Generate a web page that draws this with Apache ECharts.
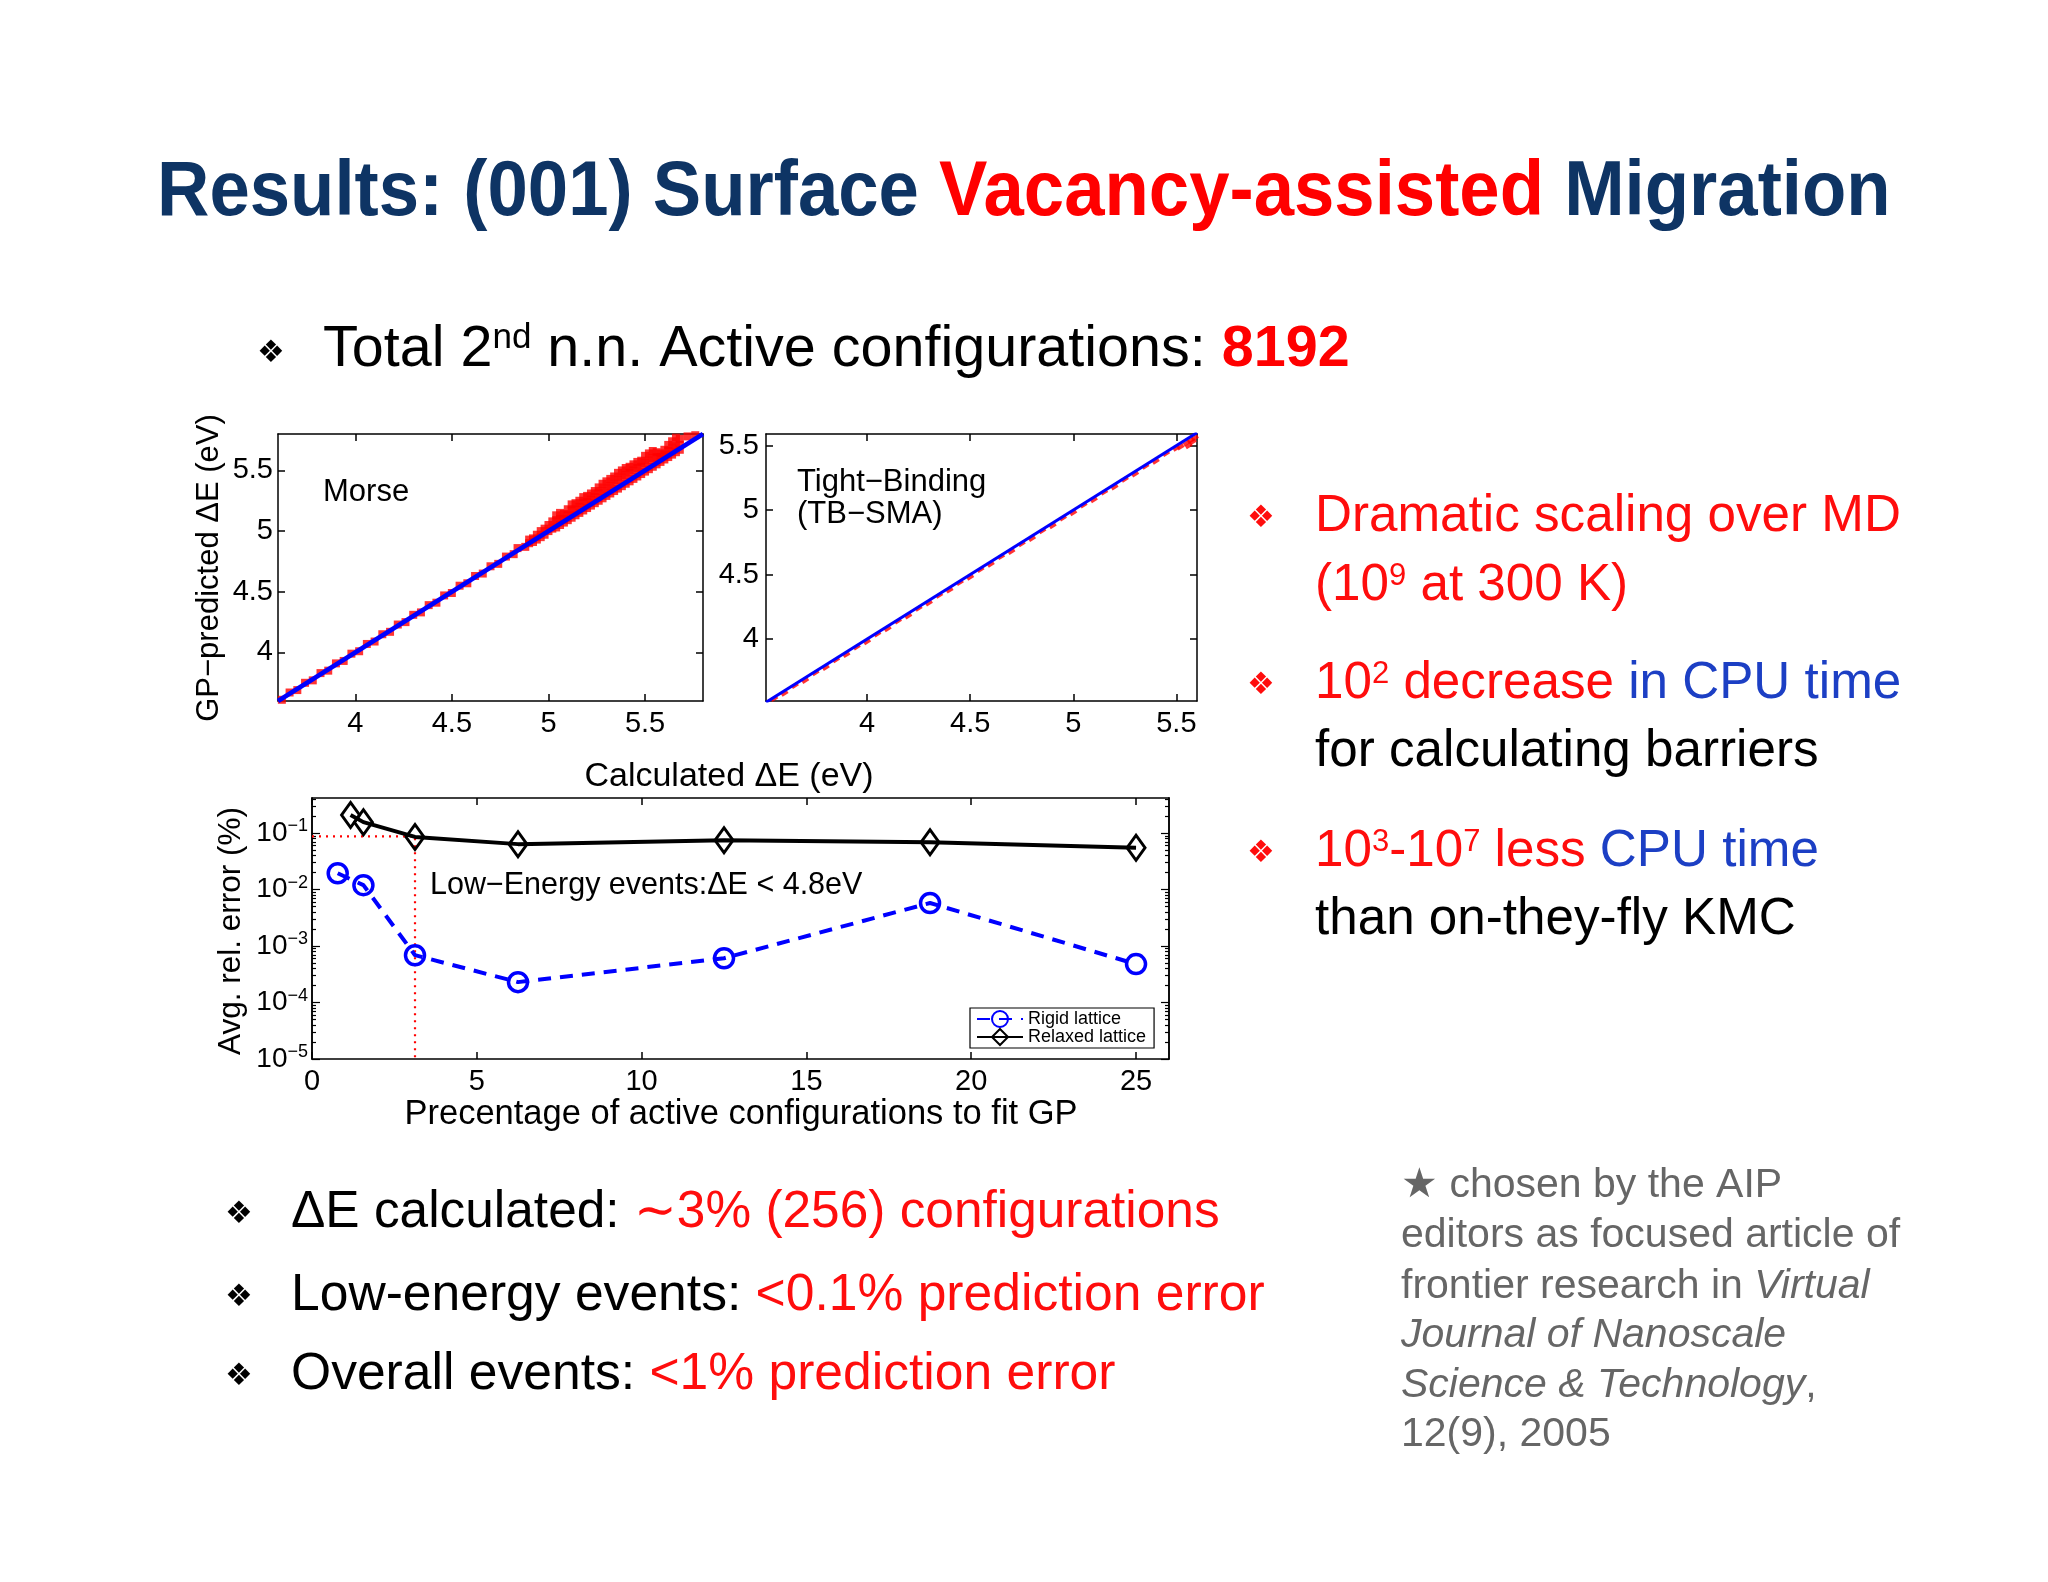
<!DOCTYPE html>
<html>
<head>
<meta charset="utf-8">
<script src="https://cdn.jsdelivr.net/npm/echarts@6/dist/echarts.min.js"></script>
<style>
html,body{margin:0;padding:0;background:#fff;}
#main{width:2048px;height:1582px;}
</style>
</head>
<body>
<div id="main"></div>
<script>
// ---------------- DATA ----------------
// Morse panel: calculated vs GP-predicted barrier (eV)
const morseCalc = [3.62,3.66,3.70,3.74,3.78,3.82,3.86,3.90,3.94,3.98,4.02,4.06,4.10,4.14,4.18,4.22,4.26,4.30,4.34,4.38,4.42,4.46,4.50,4.54,4.58,4.62,4.66,4.70,4.74,4.78,4.82,4.84,4.88,
  4.90,4.90,4.92,4.92,4.94,4.94,4.96,4.96,4.98,4.98,5.00,5.00,5.02,5.02,
  5.04,5.04,5.04,5.06,5.06,5.06,5.08,5.08,5.08,5.10,5.10,5.10,5.12,5.12,5.12,5.14,5.14,5.14,5.16,5.16,5.16,5.18,5.18,5.18,5.20,5.20,5.20,5.22,5.22,5.22,5.24,5.24,5.24,5.26,5.26,5.26,5.28,5.28,5.28,5.30,5.30,5.30,5.32,5.32,5.32,5.34,5.34,5.34,5.36,5.36,5.36,5.38,5.38,5.38,5.40,5.40,5.40,5.42,5.42,5.42,5.44,5.44,5.44,5.46,5.46,5.46,5.48,5.48,5.48,5.50,5.50,5.50,5.52,5.52,5.52,5.54,5.54,5.54,5.56,5.56,5.56,5.58,5.58,5.58,5.60,5.60,5.60,5.62,5.62,5.62,5.64,5.64,5.64,5.66,5.66,5.66,5.68,5.68,5.68,5.72,5.76];
const morsePred = [3.61,3.67,3.69,3.75,3.77,3.83,3.85,3.91,3.93,3.99,4.01,4.07,4.09,4.15,4.17,4.23,4.25,4.31,4.33,4.39,4.41,4.47,4.49,4.55,4.57,4.63,4.65,4.71,4.73,4.79,4.81,4.86,4.87,
  4.93,4.90,4.94,4.91,4.97,4.93,5.00,4.95,5.02,4.97,5.05,5.00,5.08,5.02,
  5.13,5.09,5.03,5.15,5.10,5.05,5.14,5.10,5.07,5.18,5.13,5.09,5.22,5.17,5.11,5.23,5.18,5.13,5.25,5.20,5.15,5.28,5.23,5.17,5.29,5.24,5.19,5.31,5.26,5.21,5.33,5.28,5.23,5.36,5.31,5.25,5.39,5.33,5.27,5.41,5.35,5.29,5.43,5.37,5.31,5.45,5.39,5.33,5.48,5.42,5.35,5.50,5.44,5.37,5.52,5.46,5.39,5.53,5.48,5.41,5.55,5.50,5.43,5.57,5.52,5.45,5.58,5.53,5.47,5.62,5.56,5.49,5.64,5.58,5.51,5.66,5.60,5.53,5.65,5.61,5.55,5.64,5.61,5.57,5.67,5.63,5.59,5.71,5.66,5.61,5.74,5.68,5.63,5.77,5.70,5.65,5.76,5.71,5.67,5.78,5.79];
const morseFitEnds = [3.6, 5.8];

// Tight-Binding panel
const tbCalc = [3.55,3.60,3.65,3.70,3.75,3.80,3.85,3.90,3.95,4.00,4.05,4.10,4.15,4.20,4.25,4.30,4.35,4.40,4.45,4.50,4.55,4.60,4.65,4.70,4.75,4.80,4.85,4.90,4.95,5.00,5.05,5.10,5.15,5.20,5.25,5.30,5.35,5.40,5.45,5.50,5.52,5.55,5.56,5.57,5.58,5.59];
const tbPred = [3.54,3.58,3.64,3.68,3.74,3.78,3.84,3.88,3.94,3.98,4.04,4.08,4.14,4.18,4.24,4.28,4.34,4.38,4.44,4.48,4.54,4.58,4.64,4.68,4.74,4.78,4.84,4.88,4.94,4.98,5.04,5.08,5.14,5.18,5.24,5.28,5.34,5.38,5.44,5.48,5.49,5.52,5.50,5.54,5.53,5.56];
const tbFitEnds = [3.51, 5.6];

// Error vs percentage of configurations
const pctRigid   = [0.78, 1.56, 3.125, 6.25, 12.5, 18.75, 25];
const errRigid   = [0.0195, 0.012, 0.00069, 0.00023, 0.00061, 0.0058, 0.00048];
const pctRelaxed = [1.17, 1.56, 3.125, 6.25, 12.5, 18.75, 25];
const errRelaxed = [0.21, 0.157, 0.086, 0.064, 0.075, 0.069, 0.055];
const guideX = [0, 3.125, 3.125];
const guideY = [0.088, 0.088, 0.00001];

// Tick labels
const energyTicks = [4, 4.5, 5, 5.5];
const pctTicks = [0, 5, 10, 15, 20, 25];
const errTicks = [1e-5, 1e-4, 1e-3, 1e-2, 1e-1];

// ---------------- CHART ----------------
const F = '"Liberation Sans", Arial, Helvetica, sans-serif';
const pairs = (a, b) => a.map((v, i) => [v, b[i]]);

const errMinor = [];
[1e-5, 1e-4, 1e-3, 1e-2, 1e-1].forEach(d => { for (let k = 2; k <= 9; k++) { const v = k * d; if (v < 0.42) errMinor.push(v); } });

function axis(gi, pos, min, max, ticks, showLabel, margin, extra) {
  return Object.assign({
    type: 'value', gridIndex: gi, position: pos, min: min, max: max, offset: 0,
    axisLine: { show: true, onZero: false, lineStyle: { color: '#000', width: 1.5 } },
    axisTick: { show: true, inside: true, length: 7, customValues: ticks, lineStyle: { color: '#000', width: 1.5 } },
    axisLabel: { show: showLabel, customValues: ticks, color: '#000', fontSize: 29, fontFamily: F, margin: margin },
    splitLine: { show: false }
  }, extra || {});
}
const supFmt = v => { const e = Math.round(Math.log10(v)); return '{b|10}{s|' + (e < 0 ? '\u2212' : '') + Math.abs(e) + '}'; };
function logAxis(pos, ticks, showLabel, len) {
  return {
    type: 'log', logBase: 10, gridIndex: 2, position: pos, min: 1e-5, max: 0.42, offset: 0,
    axisLine: { show: true, onZero: false, lineStyle: { color: '#000', width: 1.5 } },
    axisTick: { show: true, inside: true, length: len, customValues: ticks, lineStyle: { color: '#000', width: 1.2 } },
    axisLabel: { show: showLabel, customValues: ticks, margin: 4, formatter: supFmt,
      rich: { b: { fontSize: 28, fontFamily: F, color: '#000', lineHeight: 32 },
              s: { fontSize: 18, fontFamily: F, color: '#000', verticalAlign: 'top', lineHeight: 18 } } },
    splitLine: { show: false }
  };
}

function T(x, y, text, st, el) {
  return Object.assign({ type: 'text', x: x, y: y, z: 100,
    style: Object.assign({ text: text, fill: '#000', fontFamily: F, fontSize: 28,
      align: 'left', verticalAlign: 'middle', textAlign: 'left', textVerticalAlign: 'middle' }, st || {}) }, el || {});
}
const R = '#ff0d0d', B = '#1c3fc4', NAVY = '#0e3464', G = '#666666';
const bulletStyle = c => ({ fontFamily: '"DejaVu Sans", sans-serif', fontSize: 31, fill: c });
function rs(size, color, extra) { return Object.assign({ fontSize: size, fontFamily: F, fill: color }, extra || {}); }
const sup = (size, color) => rs(size, color, { verticalAlign: 'top' });

const graphics = [
  // Title
  T(157, 193, '{n|Results: (001) Surface }{r|Vacancy-assisted}{n| Migration}',
    { rich: { n: rs(78, NAVY, { fontWeight: 'bold' }), r: rs(78, '#ff0000', { fontWeight: 'bold' }) } },
    { scaleX: 0.93 }),
  // Sub-heading
  T(257, 354, '\u2756', bulletStyle('#000')),
  T(323, 350, '{k|Total 2}{s|nd}{k| n.n. Active configurations: }{rb|8192}',
    { rich: { k: rs(57.5, '#000'), s: sup(35, '#000'), rb: rs(57.5, '#ff0000', { fontWeight: 'bold' }) } }),
  // Right bullets
  T(1247, 519, '\u2756', bulletStyle(R)),
  T(1315, 517, '{r|Dramatic scaling over MD}', { rich: { r: rs(51.2, R) } }),
  T(1315, 586, '{r|(10}{s|9}{r| at 300 K)}', { rich: { r: rs(51.2, R), s: sup(31, R) } }),
  T(1247, 686, '\u2756', bulletStyle(R)),
  T(1315, 684, '{r|10}{s|2}{r| decrease }{b|in CPU time}', { rich: { r: rs(51.2, R), s: sup(31, R), b: rs(51.2, B) } }),
  T(1315, 752, 'for calculating barriers', { fontSize: 51.2 }),
  T(1247, 854, '\u2756', bulletStyle(R)),
  T(1315, 852, '{r|10}{s|3}{r|-10}{s|7}{r| less }{b|CPU time}', { rich: { r: rs(51.2, R), s: sup(31, R), b: rs(51.2, B) } }),
  T(1315, 920, 'than on-they-fly KMC', { fontSize: 51.2 }),
  // Bottom bullets
  T(225, 1215, '\u2756', bulletStyle('#000')),
  T(291, 1213, '{k|\u0394E calculated: }{r|\u223C3% (256) configurations}', { rich: { k: rs(51.4, '#000'), r: rs(51.4, R) } }),
  T(225, 1298, '\u2756', bulletStyle('#000')),
  T(291, 1296, '{k|Low-energy events: }{r|<0.1% prediction error}', { rich: { k: rs(51.6, '#000'), r: rs(51.6, R) } }),
  T(225, 1377, '\u2756', bulletStyle('#000')),
  T(291, 1375, '{k|Overall events: }{r|<1% prediction error}', { rich: { k: rs(51.6, '#000'), r: rs(51.6, R) } }),
  // Citation
  T(1401, 1186, '\u2605 chosen by the AIP', { fontSize: 41, fill: G }),
  T(1401, 1236, 'editors as focused article of', { fontSize: 41, fill: G }),
  T(1401, 1287, '{n|frontier research in }{i|Virtual}', { rich: { n: rs(41, G), i: rs(41, G, { fontStyle: 'italic' }) } }),
  T(1401, 1336, 'Journal of Nanoscale', { fontSize: 41, fill: G, fontStyle: 'italic' }),
  T(1401, 1386, '{i|Science & Technology}{n|,}', { rich: { n: rs(41, G), i: rs(41, G, { fontStyle: 'italic' }) } }),
  T(1401, 1435, '12(9), 2005', { fontSize: 41, fill: G }),
  // Plot annotations
  T(323, 492, 'Morse', { fontSize: 31 }),
  T(797, 482, 'Tight\u2212Binding', { fontSize: 31 }),
  T(797, 514, '(TB\u2212SMA)', { fontSize: 31 }),
  T(430, 886, 'Low\u2212Energy events:\u0394E < 4.8eV', { fontSize: 30.5 }),
  // Axis titles
  T(729, 777, 'Calculated \u0394E (eV)', { fontSize: 34, align: 'center', textAlign: 'center' }),
  T(209, 568, 'GP\u2212predicted \u0394E (eV)', { fontSize: 31, align: 'center', textAlign: 'center' }, { rotation: Math.PI / 2 }),
  T(231, 931, 'Avg. rel. error (%)', { fontSize: 31.5, align: 'center', textAlign: 'center' }, { rotation: Math.PI / 2 }),
  T(741, 1114, 'Precentage of active configurations to fit GP', { fontSize: 34.5, align: 'center', textAlign: 'center' })
];

const option = {
  backgroundColor: '#ffffff',
  animation: false,
  grid: [
    { left: 278, top: 434, width: 425, height: 267, containLabel: false, outerBoundsMode: 'none' },
    { left: 766, top: 434, width: 431, height: 267, containLabel: false, outerBoundsMode: 'none' },
    { left: 312, top: 798, width: 857, height: 261, containLabel: false, outerBoundsMode: 'none' }
  ],
  xAxis: [
    axis(0, 'bottom', 3.6, 5.8, energyTicks, true, 8),
    axis(0, 'top', 3.6, 5.8, energyTicks, false, 8),
    axis(1, 'bottom', 3.51, 5.6, energyTicks, true, 8),
    axis(1, 'top', 3.51, 5.6, energyTicks, false, 8),
    axis(2, 'bottom', 0, 26, pctTicks, true, 8),
    axis(2, 'top', 0, 26, pctTicks, false, 8)
  ],
  yAxis: [
    axis(0, 'left', 3.6, 5.8, energyTicks, true, 5),
    axis(0, 'right', 3.6, 5.8, energyTicks, false, 8),
    axis(1, 'left', 3.52, 5.59, energyTicks, true, 7),
    axis(1, 'right', 3.52, 5.59, energyTicks, false, 8),
    logAxis('left', errTicks, true, 8),
    logAxis('right', errTicks, false, 8),
    logAxis('left', errMinor, false, 4),
    logAxis('right', errMinor, false, 4)
  ],
  legend: {
    data: ['Rigid lattice', 'Relaxed lattice'],
    orient: 'vertical', left: 970, top: 1008,
    backgroundColor: '#fff', borderColor: '#000', borderWidth: 1.2, borderRadius: 0,
    padding: [2, 8, 2, 6], itemGap: 0, itemWidth: 46, itemHeight: 20,
    textStyle: { fontSize: 18, fontFamily: F, color: '#000' }
  },
  graphic: graphics,
  series: [
    { type: 'scatter', name: 'morseGP', xAxisIndex: 0, yAxisIndex: 0, data: pairs(morseCalc, morsePred),
      symbol: 'rect', symbolSize: 8, itemStyle: { color: '#ff0000' }, z: 2, silent: true },
    { type: 'line', name: 'morseFit', xAxisIndex: 0, yAxisIndex: 0, data: pairs(morseFitEnds, morseFitEnds),
      showSymbol: false, lineStyle: { color: '#0000ff', width: 4.5 }, z: 3, silent: true },
    { type: 'scatter', name: 'tbGP', xAxisIndex: 2, yAxisIndex: 2, data: pairs(tbCalc, tbPred),
      symbol: 'rect', symbolSize: [7, 4], symbolRotate: 32, itemStyle: { color: '#ff0000' }, z: 2, silent: true },
    { type: 'line', name: 'tbFit', xAxisIndex: 2, yAxisIndex: 2, data: pairs(tbFitEnds, tbFitEnds),
      showSymbol: false, lineStyle: { color: '#0000ff', width: 3 }, z: 3, silent: true },
    { type: 'line', name: 'guide', xAxisIndex: 4, yAxisIndex: 4, data: pairs(guideX, guideY),
      showSymbol: false, lineStyle: { color: '#ff0000', width: 2.2, type: [2, 5] }, z: 2, silent: true },
    { type: 'line', name: 'Relaxed lattice', xAxisIndex: 4, yAxisIndex: 4, data: pairs(pctRelaxed, errRelaxed),
      symbol: 'diamond', symbolSize: [18, 25], showSymbol: true,
      itemStyle: { color: 'rgba(0,0,0,0)', borderColor: '#000', borderWidth: 3 },
      lineStyle: { color: '#000', width: 4 }, z: 4 },
    { type: 'line', name: 'Rigid lattice', xAxisIndex: 4, yAxisIndex: 4, data: pairs(pctRigid, errRigid),
      symbol: 'circle', symbolSize: 19, showSymbol: true,
      itemStyle: { color: 'rgba(0,0,0,0)', borderColor: '#0000ff', borderWidth: 3.5 },
      lineStyle: { color: '#0000ff', width: 4, type: [13, 9] }, z: 5 }
  ]
};

const chart = echarts.init(document.getElementById('main'), null, { renderer: 'canvas' });
chart.setOption(option);
</script>
</body>
</html>
